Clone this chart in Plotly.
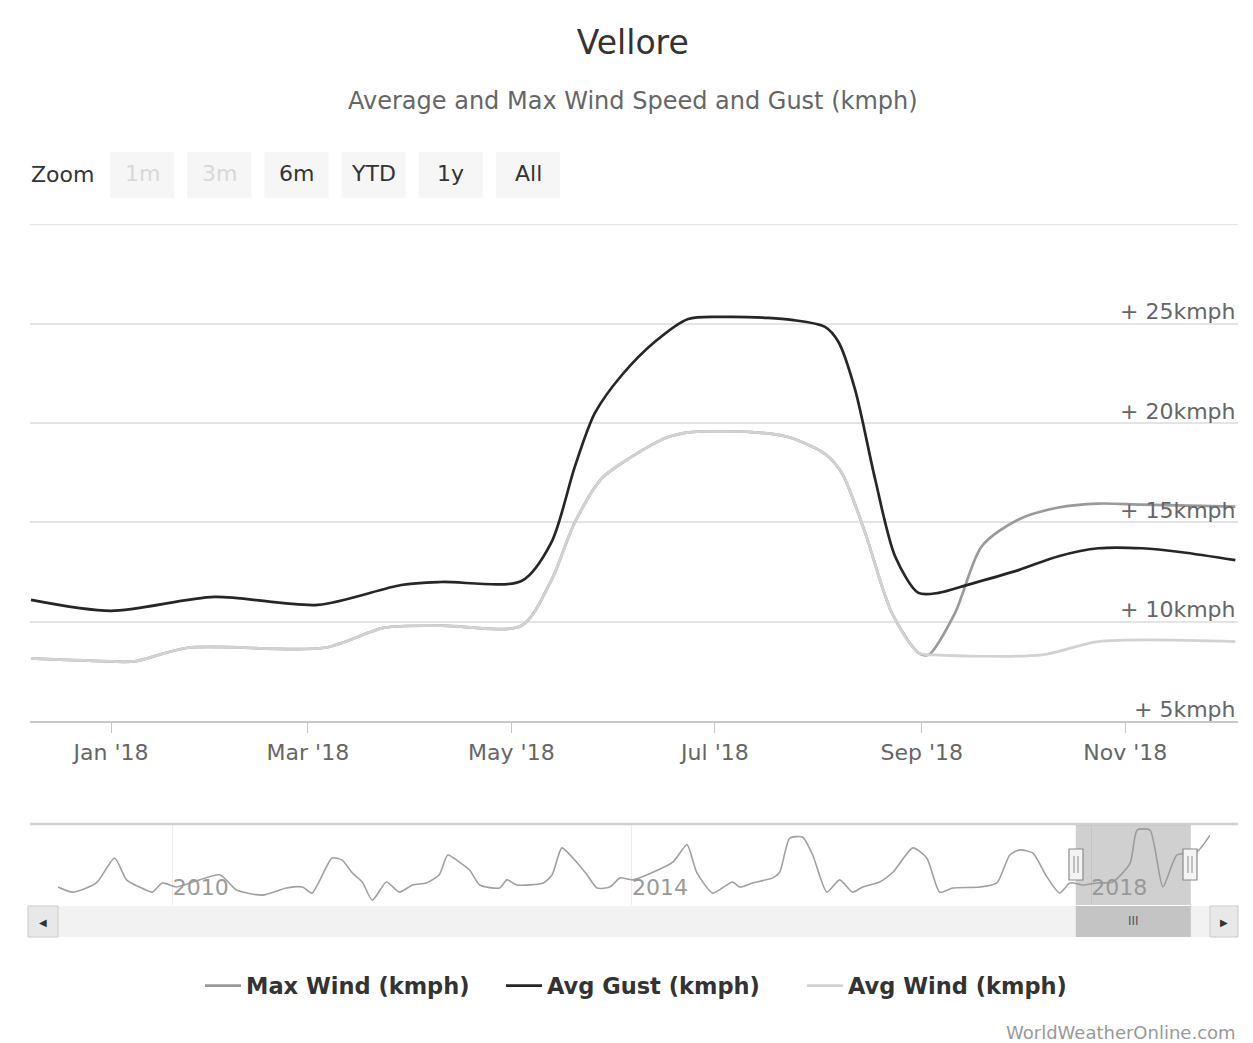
import plotly.graph_objects as go

W, H = 1253, 1043
FONT = "DejaVu Sans"

# ================== data (kmph) ==================
gust_dates = ["2017-12-08", "2018-01-01", "2018-02-01", "2018-03-04", "2018-03-29",
              "2018-04-10", "2018-05-04", "2018-05-13", "2018-05-20", "2018-05-26",
              "2018-06-03", "2018-06-13", "2018-06-23", "2018-07-04", "2018-07-17",
              "2018-07-24", "2018-08-03", "2018-08-07", "2018-08-12", "2018-08-18",
              "2018-08-24", "2018-08-31", "2018-09-06", "2018-09-15", "2018-09-30",
              "2018-10-12", "2018-10-24", "2018-11-06", "2018-11-18", "2018-12-04"]
gust_kmph = [11.1, 10.55, 11.25, 10.85, 11.85,
             12.0, 12.05, 14.0, 17.8, 20.5,
             22.4, 24.1, 25.25, 25.35, 25.3,
             25.2, 24.85, 24.1, 21.7, 17.2,
             13.3, 11.45, 11.45, 11.87, 12.6,
             13.3, 13.7, 13.7, 13.5, 13.1]

wind_dates = ["2017-12-08", "2018-01-01", "2018-01-08", "2018-01-24", "2018-03-06",
              "2018-03-24", "2018-04-10", "2018-05-04", "2018-05-13", "2018-05-20",
              "2018-05-28", "2018-06-06", "2018-06-17", "2018-06-24", "2018-07-12",
              "2018-07-23", "2018-08-03", "2018-08-08", "2018-08-15", "2018-08-23",
              "2018-08-31", "2018-09-05", "2018-10-07", "2018-10-24", "2018-12-04"]
wind_kmph = [8.15, 8.0, 8.0, 8.69, 8.69,
             9.7, 9.8, 9.8, 12.1, 15.0,
             17.2, 18.3, 19.3, 19.55, 19.55,
             19.3, 18.45, 17.5, 14.5, 10.45,
             8.43, 8.33, 8.33, 9.0, 9.0]

max_dates = ["2017-12-08", "2018-01-01", "2018-01-08", "2018-01-24", "2018-03-06",
             "2018-03-24", "2018-04-10", "2018-05-04", "2018-05-13", "2018-05-20",
             "2018-05-28", "2018-06-06", "2018-06-17", "2018-06-24", "2018-07-12",
             "2018-07-23", "2018-08-03", "2018-08-08", "2018-08-15", "2018-08-23",
             "2018-08-31", "2018-09-03", "2018-09-11", "2018-09-19", "2018-09-30",
             "2018-10-12", "2018-10-24", "2018-11-06", "2018-12-04"]
max_kmph = [8.15, 8.0, 8.0, 8.69, 8.69,
            9.7, 9.8, 9.8, 12.1, 15.0,
            17.2, 18.3, 19.3, 19.55, 19.55,
            19.3, 18.45, 17.5, 14.5, 10.45,
            8.43, 8.33, 10.45, 13.8, 15.15,
            15.75, 15.95, 15.9, 15.8]

# navigator (whole history)
nav_dates = ["2009-01-01", "2009-02-17", "2009-05-03", "2009-06-30", "2009-08-07",
             "2009-09-17", "2009-10-28", "2009-11-29", "2010-01-13", "2010-05-30",
             "2010-07-23", "2010-10-13", "2010-12-29", "2011-02-18", "2011-03-20",
             "2011-05-23", "2011-06-24", "2011-07-26", "2011-08-27", "2011-09-28",
             "2011-11-12", "2011-12-23", "2012-02-03", "2012-03-18", "2012-04-28",
             "2012-05-25", "2012-07-01", "2012-08-03", "2012-09-04", "2012-11-06",
             "2012-11-29", "2012-12-31", "2013-03-25", "2013-04-22", "2013-05-23",
             "2013-06-27", "2013-08-11", "2013-09-12", "2013-10-23", "2013-11-24",
             "2014-01-04", "2014-05-11", "2014-06-25", "2014-07-26", "2014-09-15",
             "2014-11-17", "2014-12-10", "2015-01-20", "2015-03-25", "2015-04-16",
             "2015-05-18", "2015-06-28", "2015-07-30", "2015-09-13", "2015-10-24",
             "2015-12-04", "2016-01-05", "2016-02-28", "2016-04-10", "2016-06-13",
             "2016-07-27", "2016-09-06", "2016-10-18", "2017-01-12", "2017-03-07",
             "2017-04-17", "2017-05-19", "2017-06-29", "2017-08-13", "2017-09-23",
             "2017-10-25", "2017-12-06", "2018-01-20", "2018-03-11", "2018-05-05",
             "2018-05-27", "2018-07-07", "2018-08-17", "2018-10-01", "2018-12-03",
             "2019-01-14"]
nav_kmph = [8.3, 7.3, 9.1, 14.0, 9.7,
            8.3, 7.3, 9.1, 8.3, 10.7,
            7.7, 6.7, 8.1, 8.3, 7.1,
            14.0, 13.6, 11.1, 9.3, 5.7,
            9.3, 7.3, 8.7, 9.1, 10.7,
            14.6, 13.2, 11.6, 8.7, 8.1,
            9.7, 8.7, 9.1, 10.7, 16.0,
            14.0, 10.7, 8.1, 8.3, 10.1,
            9.7, 13.2, 16.6, 11.2, 7.1,
            9.3, 8.3, 9.1, 10.1, 11.2,
            17.9, 18.1, 14.6, 7.3, 9.7,
            7.3, 8.3, 9.3, 11.2, 16.0,
            14.0, 7.3, 8.1, 8.3, 9.1,
            14.6, 15.6, 15.0, 10.3, 7.1,
            9.1, 8.7, 9.1, 9.3, 13.0,
            19.5, 19.5, 8.3, 14.6, 15.2,
            18.5]

y_ticks = [5, 10, 15, 20, 25, 30]
y_labels = ["+ 5kmph", "+ 10kmph", "+ 15kmph", "+ 20kmph", "+ 25kmph", ""]
month_ticks = ["2018-01-01", "2018-03-01", "2018-05-01", "2018-07-01", "2018-09-01", "2018-11-01"]
nav_ticks = ["2010-01-01", "2014-01-01", "2018-01-01"]
zoom_buttons = ["1m", "3m", "6m", "YTD", "1y", "All"]
zoom_enabled = [False, False, True, True, True, True]


def px(x):
    return x / W


def py(y):
    return 1 - y / H


def note(text, x, y, size, color, xanchor="center"):
    return dict(text=text, xref="paper", yref="paper", x=px(x), y=py(y),
                xanchor=xanchor, yanchor="middle", showarrow=False,
                font=dict(family=FONT, size=size, color=color))


fig = go.Figure()

fig.add_trace(go.Scatter(x=max_dates, y=max_kmph, name="Max Wind (kmph)", mode="lines",
                         line=dict(color="#9a9a9a", width=2.7, shape="spline", smoothing=0.8)))
fig.add_trace(go.Scatter(x=gust_dates, y=gust_kmph, name="Avg Gust (kmph)", mode="lines",
                         line=dict(color="#262626", width=2.7, shape="spline", smoothing=0.8)))
fig.add_trace(go.Scatter(x=wind_dates, y=wind_kmph, name="Avg Wind (kmph)", mode="lines",
                         line=dict(color="#d2d2d2", width=2.7, shape="spline", smoothing=0.8)))
fig.add_trace(go.Scatter(x=nav_dates, y=nav_kmph, mode="lines", showlegend=False,
                         xaxis="x2", yaxis="y2",
                         line=dict(color="#a0a0a0", width=1.6, shape="spline", smoothing=0.6)))

shapes = []
# top grid line of the plot area (30 kmph)
shapes.append(dict(type="line", xref="paper", yref="y", x0=px(30), x1=px(1238),
                   y0=y_ticks[-1], y1=y_ticks[-1], line=dict(color="#e8e8e8", width=1.5),
                   layer="below"))

# ---------- navigator / scrollbar chrome ----------
shapes.append(dict(type="line", xref="paper", yref="paper", x0=px(30), x1=px(1238),
                   y0=py(824), y1=py(824), line=dict(color="#cfcfcf", width=2.5)))
shapes.append(dict(type="rect", xref="paper", yref="paper", x0=px(58), x1=px(1210),
                   y0=py(906), y1=py(937), fillcolor="#f2f2f2", line=dict(width=0), layer="below"))
for a, b in [(28, 58), (1210, 1238)]:
    shapes.append(dict(type="rect", xref="paper", yref="paper", x0=px(a), x1=px(b),
                       y0=py(906), y1=py(937), fillcolor="#e8e8e8",
                       line=dict(color="#cccccc", width=1)))
sel0, sel1 = "2017-11-13", "2018-11-14"
shapes.append(dict(type="rect", xref="x2", yref="paper", x0=sel0, x1=sel1,
                   y0=py(905), y1=py(825), fillcolor="rgba(150,150,150,0.45)", line=dict(width=0)))
shapes.append(dict(type="rect", xref="x2", yref="paper", x0=sel0, x1=sel1,
                   y0=py(937), y1=py(906), fillcolor="#c4c4c4", line=dict(width=0)))
for cx in [1076, 1190]:
    shapes.append(dict(type="rect", xref="paper", yref="paper", x0=px(cx - 7), x1=px(cx + 7),
                       y0=py(880), y1=py(849), fillcolor="#f4f4f4",
                       line=dict(color="#8a8a8a", width=1.2)))
    for dx in (-2, 2):
        shapes.append(dict(type="line", xref="paper", yref="paper", x0=px(cx + dx), x1=px(cx + dx),
                           y0=py(873), y1=py(856), line=dict(color="#8a8a8a", width=1)))

# ---------- range selector buttons ----------
annotations = [note("Zoom", 62, 175, 22, "#333333")]
for i, (lab, on) in enumerate(zip(zoom_buttons, zoom_enabled)):
    cx = 142 + i * 77.2
    shapes.append(dict(type="rect", xref="paper", yref="paper", x0=px(cx - 32), x1=px(cx + 32),
                       y0=py(198), y1=py(152), fillcolor="#f6f6f6", line=dict(width=0)))
    annotations.append(note(lab, cx, 174, 22, "#333333" if on else "#d8d8d8"))

# y-axis labels sit above their grid lines, right aligned
for v, lab in zip(y_ticks, y_labels):
    if lab:
        annotations.append(dict(text=lab, xref="paper", yref="y", x=px(1238), y=v,
                                xanchor="right", yanchor="middle", yshift=12, showarrow=False,
                                font=dict(family=FONT, size=22, color="#666666")))

annotations.append(note("Average and Max Wind Speed and Gust (kmph)", 633, 101, 24, "#666666"))
annotations.append(note("◀", 43, 922, 10, "#333333"))
annotations.append(note("▶", 1224, 922, 10, "#333333"))
annotations.append(note("III", 1133, 921, 12, "#555555"))
annotations.append(note("WorldWeatherOnline.com", 1238, 1032, 18, "#999999", xanchor="right"))

fig.update_layout(
    width=W, height=H,
    margin=dict(l=0, r=0, t=0, b=0),
    paper_bgcolor="white", plot_bgcolor="white",
    font=dict(family=FONT, color="#333333"),
    title=dict(text="Vellore", x=0.505, xanchor="center", y=py(42), yanchor="middle",
               font=dict(family=FONT, size=33, color="#333333")),
    xaxis=dict(
        domain=[px(30), px(1238)], anchor="y", type="date",
        range=["2017-12-07 17:00", "2018-12-04 19:00"],
        tickmode="array", tickvals=month_ticks, tickformat="%b '%y",
        ticks="outside", ticklen=10, tickcolor="#c8c8c8", tickwidth=1.2,
        ticklabelstandoff=1,
        showline=True, linecolor="#c8c8c8", linewidth=1.5,
        showgrid=False, zeroline=False,
        tickfont=dict(family=FONT, size=22, color="#666666"),
    ),
    yaxis=dict(
        domain=[py(721), py(224)], anchor="x", range=[5, 30.03],
        tickmode="array", tickvals=y_ticks, showticklabels=False, ticks="",
        showgrid=True, gridcolor="#e4e4e4", gridwidth=1.5, zeroline=False,
    ),
    xaxis2=dict(
        domain=[px(58), px(1210)], anchor="y2", type="date",
        range=["2009-01-01", "2019-01-14"],
        tickmode="array", tickvals=nav_ticks, tickformat="%Y",
        ticklabelposition="inside right", ticks="",
        showgrid=True, gridcolor="#ececec", zeroline=False, showline=False,
        tickfont=dict(family=FONT, size=22, color="#999999"),
    ),
    yaxis2=dict(
        domain=[py(905), py(825)], anchor="x2", range=[4.76, 20.5],
        showticklabels=False, showgrid=False, zeroline=False,
    ),
    legend=dict(orientation="h", x=px(200), xanchor="left", y=py(986), yanchor="middle",
                font=dict(family=FONT, size=22.5, color="#333333", weight="bold"),
                itemwidth=36, entrywidth=250, entrywidthmode="pixels"),
    shapes=shapes,
    annotations=annotations,
)

fig.write_html("out.html", config={"displayModeBar": False},
               post_script="document.body.style.margin='0';")
